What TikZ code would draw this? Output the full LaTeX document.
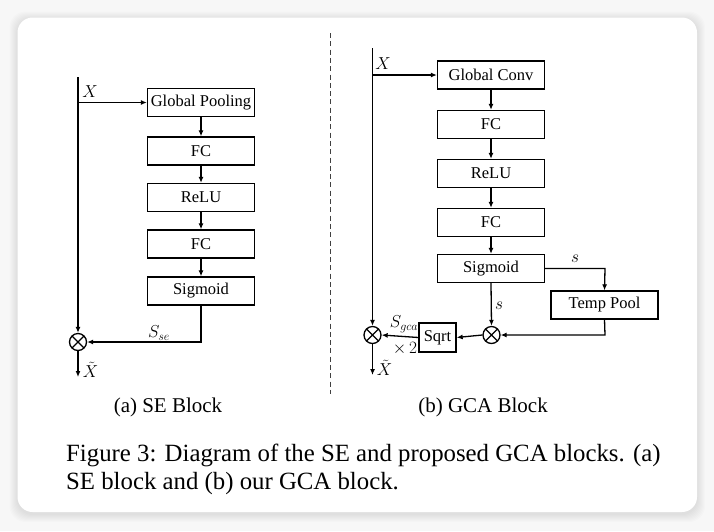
\documentclass[tikz,border=0pt]{standalone}
\usepackage{fontspec}
\setmainfont{Liberation Serif}
\usetikzlibrary{arrows.meta}
\definecolor{bgc}{HTML}{F7F7F7}
\begin{document}
\begin{tikzpicture}[x=1pt,y=-1pt,
  box/.style={draw, line width=1.3pt, minimum width=107pt, minimum height=28pt, inner sep=0pt, font=\fontsize{16.5}{18}\selectfont},
  arr/.style={-{Latex[length=6pt,width=5pt]}, line width=1.3pt},
  mult/.style={draw, circle, line width=1.3pt, minimum size=17pt, inner sep=0pt,
    path picture={\draw[line width=1.3pt] (path picture bounding box.north west) -- (path picture bounding box.south east)
      (path picture bounding box.north east) -- (path picture bounding box.south west);}},
  lab/.style={font=\fontsize{17}{18}\selectfont, inner sep=0pt},
  subcap/.style={font=\fontsize{21}{24}\selectfont, inner sep=0pt},
  figcap/.style={font=\fontsize{24.8}{28}\selectfont, inner sep=0pt, anchor=west}
]
\useasboundingbox (0,0) rectangle (714,531);
\fill[bgc] (0,0) rectangle (714,531);
% shadow
\foreach \i in {1,...,8}{
  \fill[black, opacity=0.012, rounded corners=16pt] (17.5-\i,17.5-\i+2) rectangle (697+\i,512+\i+2);
}
\fill[white, rounded corners=15pt] (17.5,17.5) rectangle (697,512);

% divider
\draw[dash pattern=on 5pt off 3.3pt, line width=1pt, black!75] (330,33) -- (330,394);

% ---------- SE block
\node[box] (gp) at (201,102.5) {Global Pooling};
\node[box] (fc1) at (201,151) {FC};
\node[box] (relu) at (201,197.5) {ReLU};
\node[box] (fc2) at (201,244) {FC};
\node[box] (sig) at (201,291) {Sigmoid};
\node[mult] (mA) at (78,342) {};
\coordinate (topA) at (78,77);
\coordinate (brA) at (78,102.5);
\coordinate (cA) at (201,342);
\coordinate (outA) at (78,377);
\draw[arr] (topA) -- (mA);
\draw[arr] (brA) -- (gp);
\draw[arr] (gp) -- (fc1);
\draw[arr] (fc1) -- (relu);
\draw[arr] (relu) -- (fc2);
\draw[arr] (fc2) -- (sig);
\draw[arr] (sig.south) -- (cA) -- (mA.east);
\draw[arr] (mA.south) -- (outA);
\node[lab] (xA) at (90,92) {$X$};
\node[lab] (sse) at (159,333) {$S_{se}$};
\node[lab] (xtA) at (90.5,370) {$\tilde{X}$};

% ---------- GCA block
\node[box] (gc) at (491,75) {Global Conv};
\node[box] (fc3) at (491,124.5) {FC};
\node[box] (relu2) at (491,173.5) {ReLU};
\node[box] (fc4) at (491,222.5) {FC};
\node[box] (sig2) at (491,268.5) {Sigmoid};
\node[box] (tp) at (604.5,305) {Temp Pool};
\node[box, minimum width=37pt, minimum height=29pt] (sq) at (437.5,337.5) {Sqrt};
\node[mult] (mB) at (491.5,335) {};
\node[mult] (mC) at (372.5,335) {};
\coordinate (topB) at (372.5,48);
\coordinate (brB) at (372.5,75);
\coordinate (cB1) at (605,268.5);
\coordinate (cB2) at (605,335);
\coordinate (outB) at (372.5,375);
\draw[arr] (topB) -- (mC);
\draw[arr] (brB) -- (gc);
\draw[arr] (gc) -- (fc3);
\draw[arr] (fc3) -- (relu2);
\draw[arr] (relu2) -- (fc4);
\draw[arr] (fc4) -- (sig2);
\draw[arr] (sig2.east) -- (cB1) -- (tp.north);
\draw[arr] (sig2.south) -- (mB.north);
\draw[arr] (tp.south) -- (cB2) -- (mB.east);
\draw[arr] (mB.west) -- (sq.east);
\draw[arr] (sq.west) -- (mC.east);
\draw[arr] (mC.south) -- (outB);
\node[lab] (xB) at (383,64) {$X$};
\node[lab] (sB1) at (575,259) {$s$};
\node[lab] (sB2) at (499,306) {$s$};
\node[lab] (sg) at (404,324) {$S_{gca}$};
\node[lab] (x2) at (405,349) {$\times\,2$};
\node[lab] (xtB) at (384.5,368) {$\tilde{X}$};

% captions
\node[subcap] (ca) at (168,407) {(a) SE Block};
\node[subcap] (cb) at (483,407) {(b) GCA Block};
\node[figcap] (fig1) at (66,455) {Figure 3: Diagram of the SE and proposed GCA blocks. (a)};
\node[figcap] (fig2) at (66,484) {SE block and (b) our GCA block.};
\end{tikzpicture}
\end{document}
